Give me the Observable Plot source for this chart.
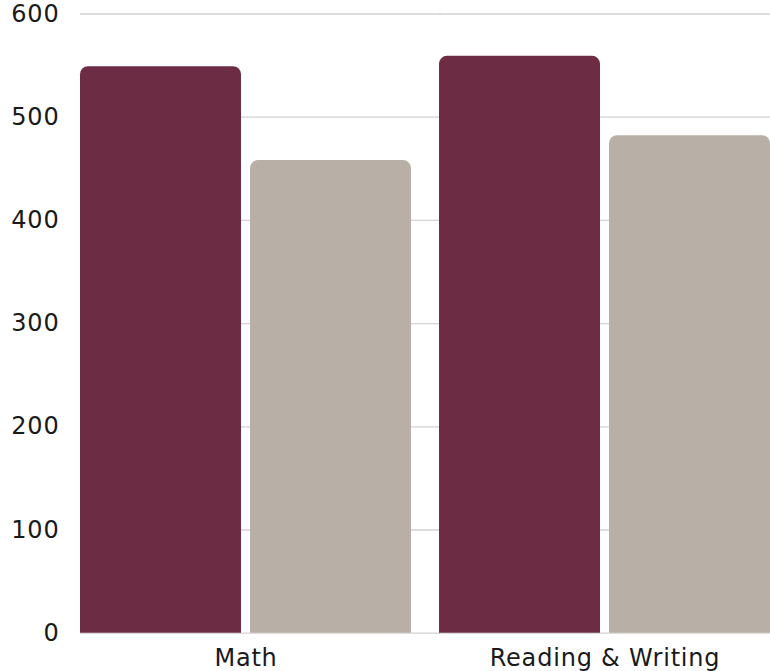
<!DOCTYPE html>
<html><head><meta charset="utf-8">
<script src="https://cdn.jsdelivr.net/npm/d3@7"></script>
<script src="https://cdn.jsdelivr.net/npm/@observablehq/plot@0.6"></script>
<style>html,body{margin:0;padding:0;background:#fff}
svg text{letter-spacing:0.8px}</style>
</head><body><div id="chart"></div>
<script>
const subjects = ["Math", "Reading & Writing"];
const seriesNames = ["School", "National"];
const schoolScores = [549, 559];
const nationalScores = [458, 482];
const yTicks = [0, 100, 200, 300, 400, 500, 600];
const colors = ["#6c2d44", "#b8b0a6"];

const rows = subjects.flatMap((s, i) => [
  {subject: s, series: seriesNames[0], value: schoolScores[i]},
  {subject: s, series: seriesNames[1], value: nationalScores[i]}
]);

const chart = Plot.plot({
  width: 770, height: 671,
  marginTop: 13.5, marginBottom: 38.3, marginLeft: 79, marginRight: 0,
  style: {fontFamily: "'DejaVu Sans', sans-serif", fontSize: "24px", color: "#1a1a1a", background: "#fff"},
  fx: {domain: subjects, paddingInner: 0.078, paddingOuter: 0, label: null},
  x: {domain: seriesNames, paddingInner: 0.053, paddingOuter: 0, axis: null},
  y: {domain: [0, 600], label: null},
  color: {domain: seriesNames, range: colors},
  marks: [
    Plot.ruleY(yTicks, {stroke: "#d2d2d2", strokeWidth: 1.3, insetRight: -30}),
    Plot.barY(rows, {fx: "subject", x: "series", y: "value", fill: "series", ry1: 8}),
    Plot.axisY(yTicks, {tickSize: 0, tickPadding: 21, label: null, fontSize: 24}),
    Plot.axisFx({anchor: "bottom", tickSize: 0, tickPadding: 16, label: null, fontSize: 24})
  ]
});
document.getElementById("chart").appendChild(chart);
</script>
</body></html>
